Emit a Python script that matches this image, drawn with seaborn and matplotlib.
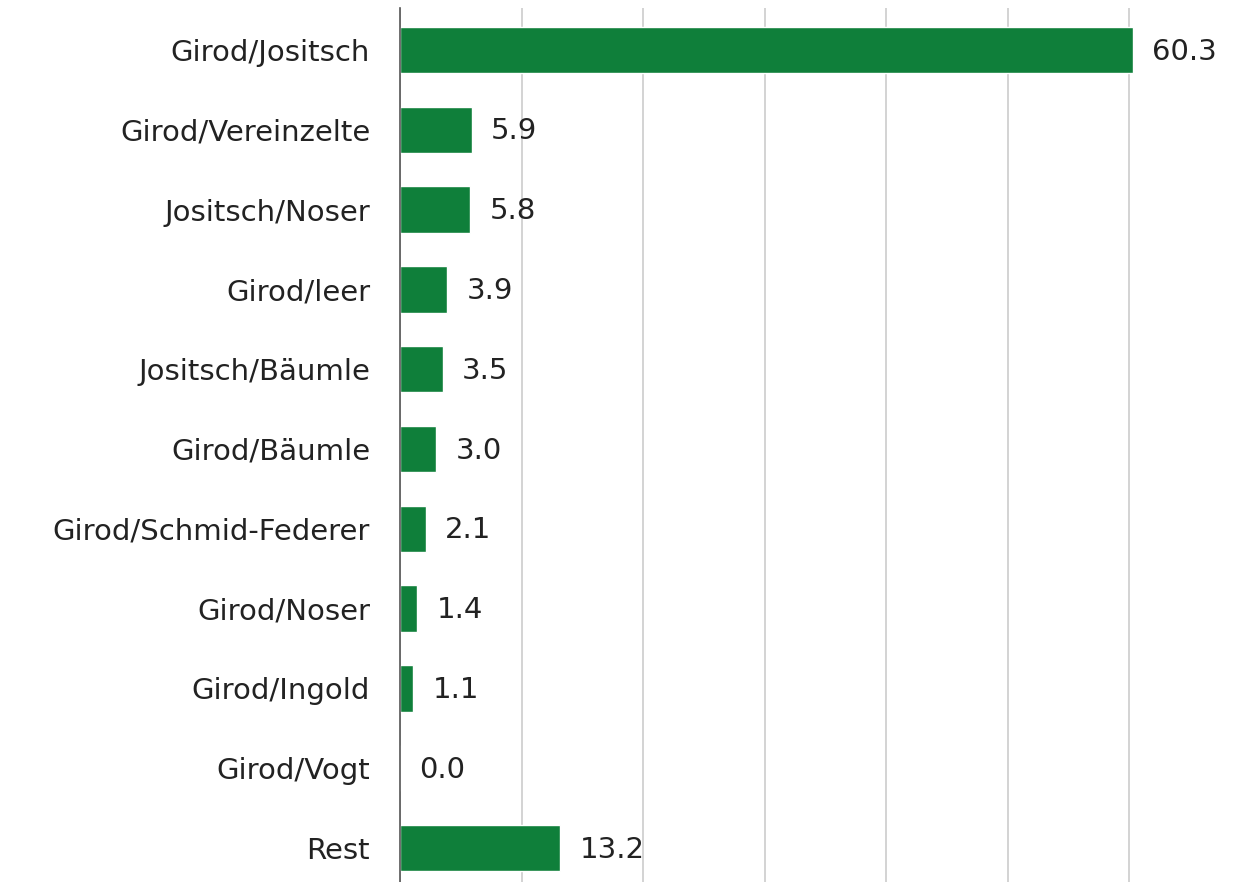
import matplotlib
matplotlib.use("Agg")
import matplotlib.pyplot as plt
import seaborn as sns
import pandas as pd

categories = ["Girod/Jositsch", "Girod/Vereinzelte", "Jositsch/Noser", "Girod/leer",
              "Jositsch/Bäumle", "Girod/Bäumle", "Girod/Schmid-Federer", "Girod/Noser",
              "Girod/Ingold", "Girod/Vogt", "Rest"]
values = [60.3, 5.9, 5.8, 3.9, 3.5, 3.0, 2.1, 1.4, 1.1, 0.0, 13.2]
value_labels = ["60.3", "5.9", "5.8", "3.9", "3.5", "3.0", "2.1", "1.4", "1.1", "0.0", "13.2"]

sns.set_style("white")
plt.rcParams['font.family'] = ['DejaVu Sans']

df = pd.DataFrame({"cat": categories, "val": values})

fig = plt.figure(figsize=(12.48, 8.82), dpi=100)
ax = fig.add_axes([400/1248, (882-890)/882, 848/1248, 882/882])

sns.barplot(data=df, y="cat", x="val", orient="h", color="#0f7f3a",
            width=0.58, saturation=1, ax=ax, zorder=3)

ax.set_xlim(0, 848/12.15)
ax.set_ylim(10.525, -0.525)
ax.set_xticks([0, 10, 20, 30, 40, 50, 60])
ax.xaxis.grid(True, color="#cccccc", linewidth=1.2, zorder=0)
ax.set_axisbelow(True)
ax.tick_params(axis="x", bottom=False, labelbottom=False)
ax.tick_params(axis="y", left=False, labelsize=21, labelcolor="#222222", pad=18)
ax.set_xlabel("")
ax.set_ylabel("")
for s in ["top", "right", "bottom"]:
    ax.spines[s].set_visible(False)
ax.spines["left"].set_color("#555555")
ax.spines["left"].set_linewidth(1.2)
ax.spines["left"].set_zorder(4)

for i, (v, lab) in enumerate(zip(values, value_labels)):
    ax.text(v + 1.6, i + 0.02, lab, va="center", ha="left", fontsize=21, color="#222222")

fig.savefig("out.png", dpi=100)
